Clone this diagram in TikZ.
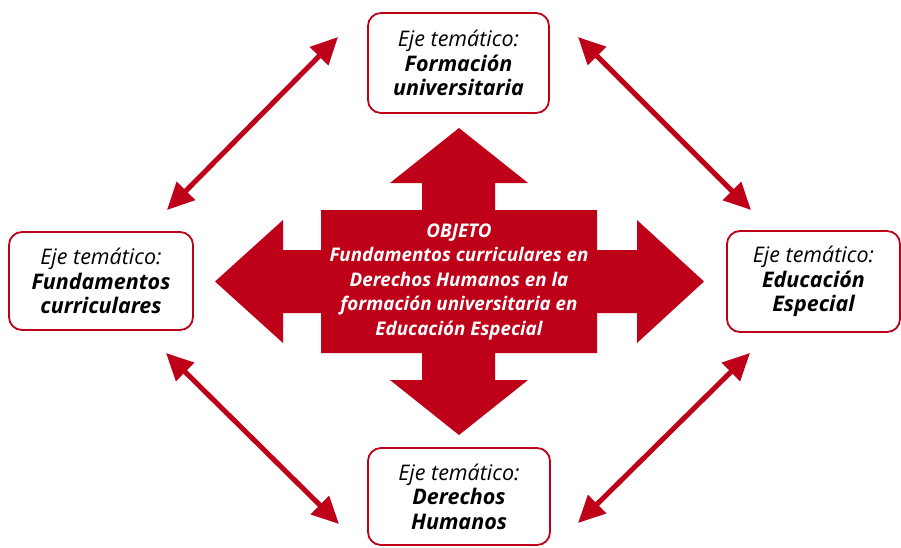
\documentclass[tikz,border=0pt]{standalone}
\usepackage{fontspec}
\setmainfont{Open Sans}
\usetikzlibrary{arrows.meta}
\definecolor{rojo}{RGB}{190,0,24}
\begin{document}
\begin{tikzpicture}[x=1pt,y=-1pt,
  eje/.style={draw=rojo, line width=1.8pt, rounded corners=13pt, fill=white,
    align=center, inner sep=0pt, text=black,
    font=\fontsize{21.5}{24.5}\selectfont\itshape},
  dbl/.style={draw=rojo, line width=5pt,
    {Triangle[length=27pt,width=25pt]}-{Triangle[length=27pt,width=25pt]}},
  objtext/.style={align=center, text=white, inner sep=0pt,
    font=\fontsize{18.8}{24.5}\selectfont\bfseries\itshape}]
\useasboundingbox (0,0) rectangle (901,547);
% theme boxes
\node[eje, minimum width=181pt, minimum height=100pt] (top) at (458.5,63)
  {Eje temático:\\\textbf{Formación}\\\textbf{universitaria}};
\node[eje, minimum width=184pt, minimum height=98pt] (left) at (101,281)
  {Eje temático:\\\textbf{Fundamentos}\\\textbf{curriculares}};
\node[eje, minimum width=173pt, minimum height=101pt] (right) at (813.5,281.5)
  {Eje temático:\\\textbf{Educación}\\\textbf{Especial}};
\node[eje, minimum width=182pt, minimum height=97pt] (bottom) at (459,496.5)
  {Eje temático:\\\textbf{Derechos}\\\textbf{Humanos}};
% central cross arrow
\fill[rojo] (459,128) -- (528,183) -- (495,183) -- (495,210) -- (597,210)
  -- (597,250) -- (637,250) -- (637,220) -- (704,281.5) -- (637,343)
  -- (637,313) -- (597,313) -- (597,353) -- (495,353) -- (495,380)
  -- (528,380) -- (459,435) -- (390,380) -- (422,380) -- (422,353)
  -- (321,353) -- (321,313) -- (283,313) -- (283,343) -- (215,281.5)
  -- (283,220) -- (283,250) -- (321,250) -- (321,210) -- (422,210)
  -- (422,183) -- (390,183) -- cycle;
\node[objtext] (obj) at (459,281.5)
  {OBJETO\\Fundamentos curriculares en\\Derechos Humanos en la\\formación universitaria en\\Educación Especial};
% diagonal double arrows
\coordinate (tlA) at (167,210); \coordinate (tlB) at (338,37);
\coordinate (trA) at (578,37);  \coordinate (trB) at (751,210);
\coordinate (brA) at (750,353); \coordinate (brB) at (578,523);
\coordinate (blA) at (166,353); \coordinate (blB) at (339,524);
\draw[dbl] (tlA) -- (tlB);
\draw[dbl] (trA) -- (trB);
\draw[dbl] (brA) -- (brB);
\draw[dbl] (blA) -- (blB);
\end{tikzpicture}
\end{document}
